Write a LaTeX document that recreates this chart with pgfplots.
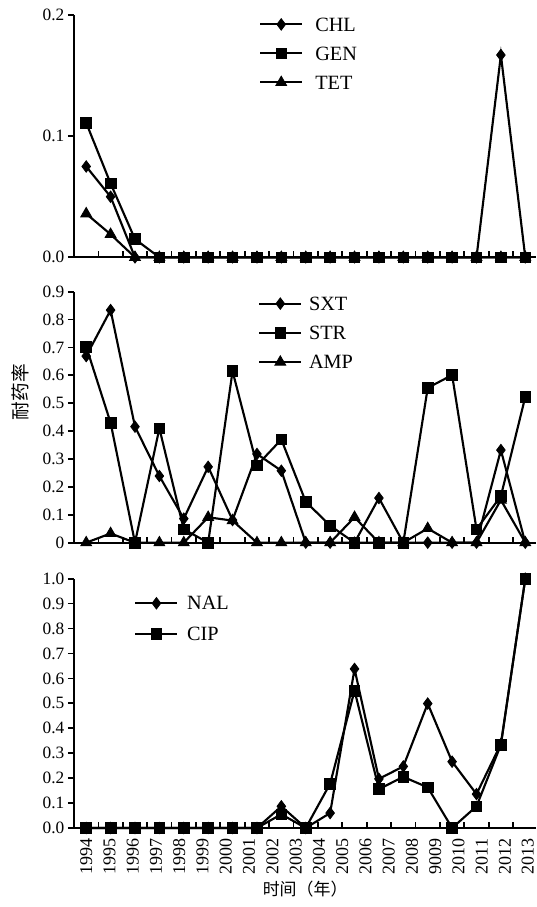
\documentclass[border=0pt]{standalone}
\usepackage{fontspec}
\setmainfont{Liberation Serif}
\newfontfamily\cjk{Noto Sans CJK SC}
\usepackage{pgfplots}
\pgfplotsset{compat=1.18}

\pgfplotsset{
  panel/.style={
    scale only axis, width=346.7pt,
    xmin=-0.5, xmax=18.45,
    axis x line*=bottom, axis y line*=left,
    axis line style={line width=1.6pt},
    clip=false,
    xtick={0.5,1.5,...,17.5}, xticklabel={\relax},
    xtick align=inside, ytick align=outside,
    major tick length=4.5pt,
    tick style={black, line width=1.3pt},
    tick label style={font=\fontsize{13}{15}\selectfont},
    /pgf/number format/assume math mode=true,
    yticklabel style={inner sep=2.5pt},
    legend cell align=left,
    legend image code/.code={\draw[mark repeat=2,mark phase=2] plot coordinates {(0pt,0pt)(15.75pt,0pt)(31.5pt,0pt)};},
    legend style={draw=none, fill=none, anchor=north west, inner sep=0pt,
      font=\fontsize{15.2}{18}\selectfont,
      nodes={inner sep=0pt, text height=10pt, text depth=0pt}},
    every axis plot/.append style={black, line width=1.6pt, mark options={solid, line width=0.6pt}},
  },
  dia/.style={mark=diamond*, mark size=4.3pt},
  sq/.style={mark=square*, mark size=4pt},
  tri/.style={mark=triangle*, mark size=4.7pt},
}

\begin{document}
\begin{tikzpicture}
\path[use as bounding box] (-55.5pt,-59.25pt) rectangle (346.5pt,621pt);

% top panel
\begin{axis}[panel, at={(0pt,428pt)}, anchor=south west, height=181.7pt,
  ymin=0, ymax=0.2, ytick={0,0.1,0.2},
  yticklabel style={/pgf/number format/.cd, fixed, fixed zerofill, precision=1},
  legend style={at={(axis description cs:0.400,0.990)}, row sep=11.75pt, column sep=9pt}]
\addplot[dia] coordinates {(0,0.075) (1,0.050) (2,0) (3,0) (4,0) (5,0) (6,0) (7,0) (8,0) (9,0) (10,0) (11,0) (12,0) (13,0) (14,0) (15,0) (16,0) (17,0.167) (18,0)};
\addplot[sq] coordinates {(0,0.111) (1,0.061) (2,0.015) (3,0) (4,0) (5,0) (6,0) (7,0) (8,0) (9,0) (10,0) (11,0) (12,0) (13,0) (14,0) (15,0) (16,0) (17,0) (18,0)};
\addplot[tri] coordinates {(0,0.036) (1,0.019) (2,0) (3,0) (4,0) (5,0) (6,0) (7,0) (8,0) (9,0) (10,0) (11,0) (12,0) (13,0) (14,0) (15,0) (16,0) (17,0) (18,0)};
\legend{CHL,GEN,TET}
\end{axis}

% middle panel
\begin{axis}[panel, at={(0pt,214pt)}, anchor=south west, height=188.25pt,
  ymin=0, ymax=0.9, ytick={0,0.1,...,0.9},
  yticklabels={0,0.1,0.2,0.3,0.4,0.5,0.6,0.7,0.8,0.9},
  ylabel={\cjk 耐药率},
  every axis y label/.style={at={(axis description cs:0,0.6)}, xshift=-40pt, rotate=90, anchor=center, font=\fontsize{14}{16}\selectfont},
  legend style={at={(axis description cs:0.398,0.980)}, row sep=11.9pt, column sep=5pt}]
\addplot[dia] coordinates {(0,0.669) (1,0.834) (2,0.416) (3,0.239) (4,0.086) (5,0.272) (6,0.081) (7,0.318) (8,0.258) (9,0) (10,0) (11,0) (12,0.160) (13,0) (14,0) (15,0) (16,0) (17,0.332) (18,0)};
\addplot[sq] coordinates {(0,0.703) (1,0.430) (2,0) (3,0.410) (4,0.048) (5,0) (6,0.615) (7,0.277) (8,0.370) (9,0.147) (10,0.061) (11,0) (12,0) (13,0) (14,0.555) (15,0.601) (16,0.048) (17,0.167) (18,0.523)};
\addplot[tri] coordinates {(0,0) (1,0.033) (2,0) (3,0) (4,0) (5,0.091) (6,0.079) (7,0) (8,0) (9,0) (10,0) (11,0.091) (12,0) (13,0) (14,0.051) (15,0) (16,0) (17,0.153) (18,0)};
\legend{SXT,STR,AMP}
\end{axis}

% bottom panel
\begin{axis}[panel, at={(0pt,0pt)}, anchor=south west, height=187pt,
  ymin=0, ymax=1, ytick={0,0.1,...,1.0},
  yticklabel style={/pgf/number format/.cd, fixed, fixed zerofill, precision=1},
  extra x ticks={0,0.954,1.908,2.862,3.816,4.77,5.724,6.678,7.632,8.586,9.54,10.494,11.448,12.402,13.356,14.31,15.264,16.218,17.172,18.1},
  extra x tick labels={1994,1995,1996,1997,1998,1999,2000,2001,2002,2003,2004,2005,2006,2007,2008,9009,2010,2011,2012,2013},
  extra x tick style={major tick length=0pt,
    xticklabel style={rotate=90, anchor=east, inner sep=0pt, font=\fontsize{13.5}{15}\selectfont},
    xticklabel shift=8pt},
  xlabel={\cjk 时间（年）},
  every axis x label/.style={at={(axis description cs:0.5,0)}, yshift=-45.75pt, anchor=center, font=\fontsize{12.7}{15}\selectfont},
  legend style={at={(axis description cs:0.130,0.929)}, row sep=13pt, column sep=6.5pt}]
\addplot[dia] coordinates {(0,0) (1,0) (2,0) (3,0) (4,0) (5,0) (6,0) (7,0) (8,0.087) (9,0) (10,0.060) (11,0.638) (12,0.197) (13,0.247) (14,0.499) (15,0.266) (16,0.136) (17,0.337) (18,1.0)};
\addplot[sq] coordinates {(0,0) (1,0) (2,0) (3,0) (4,0) (5,0) (6,0) (7,0) (8,0.055) (9,0) (10,0.178) (11,0.551) (12,0.156) (13,0.205) (14,0.163) (15,0) (16,0.087) (17,0.334) (18,1.0)};
\legend{NAL,CIP}
\end{axis}
\end{tikzpicture}
\end{document}
